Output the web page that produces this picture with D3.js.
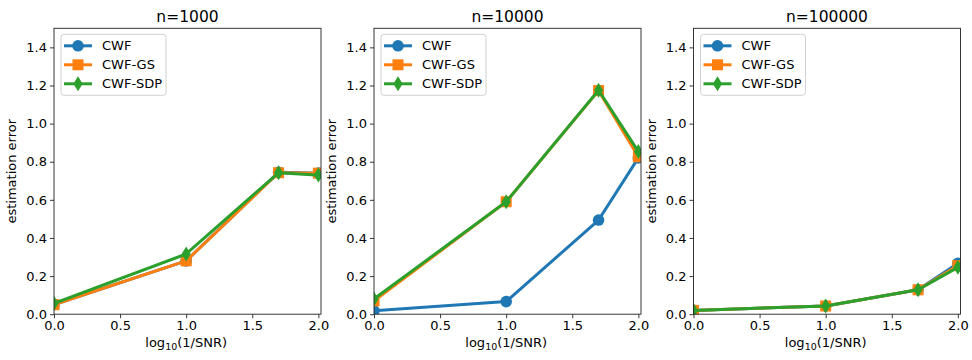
<!DOCTYPE html>
<html>
<head>
<meta charset="utf-8">
<script src="https://cdn.jsdelivr.net/npm/d3@7"></script>
<style>
  html, body { margin: 0; padding: 0; background: #fff; }
  svg { display: block; font-family: "DejaVu Sans", sans-serif; }
</style>
</head>
<body>
<svg id="chart" width="972" height="360"></svg>
<script>
// x positions: log10(1/SNR)
const snrLog = [0, 1, 1.699, 2];

const panelTitles = ["n=1000", "n=10000", "n=100000"];
const seriesNames = ["CWF", "CWF-GS", "CWF-SDP"];

// estimation error per sample size
const cwf_1000 = [0.05, 0.28, 0.745, 0.74];
const gs_1000  = [0.05, 0.28, 0.742, 0.74];
const sdp_1000 = [0.057, 0.316, 0.742, 0.73];

const cwf_10000 = [0.018, 0.066, 0.494, 0.82];
const gs_10000  = [0.07, 0.59, 1.173, 0.826];
const sdp_10000 = [0.08, 0.59, 1.175, 0.853];

const cwf_100000 = [0.02, 0.043, 0.128, 0.267];
const gs_100000  = [0.02, 0.043, 0.128, 0.255];
const sdp_100000 = [0.02, 0.043, 0.128, 0.246];

const yTicks = [0, 0.2, 0.4, 0.6, 0.8, 1.0, 1.2, 1.4];
const xTicks = [0, 0.5, 1.0, 1.5, 2.0];

const panelData = [
  [cwf_1000, gs_1000, sdp_1000],
  [cwf_10000, gs_10000, sdp_10000],
  [cwf_100000, gs_100000, sdp_100000]
];

const colors = ["#1f77b4", "#ff7f0e", "#2ca02c"];
const markerShapes = ["circle", "square", "thinDiamond"];

const svg = d3.select("#chart");
const panelLeft = [54, 374, 693.5];
const panelW = 267;
const plotTop = 28.3, plotBottom = 314.2;

function drawMarker(g, shape, color, x, y) {
  if (shape === "circle") {
    g.append("circle").attr("cx", x).attr("cy", y).attr("r", 5.8).attr("fill", color);
  } else if (shape === "square") {
    g.append("rect").attr("x", x - 5.5).attr("y", y - 5.5)
      .attr("width", 11).attr("height", 11).attr("fill", color);
  } else {
    const h = 7.5, w = 4.6;
    g.append("path")
      .attr("d", `M${x},${y - h}L${x + w},${y}L${x},${y + h}L${x - w},${y}Z`)
      .attr("fill", color);
  }
}

panelTitles.forEach((title, pi) => {
  const x0 = panelLeft[pi];
  const x = d3.scaleLinear().domain([0, 2.02]).range([x0, x0 + panelW]);
  const y = d3.scaleLinear().domain([0, 1.5]).range([plotBottom, plotTop]);
  const g = svg.append("g");

  const clipId = "clip" + pi;
  svg.append("clipPath").attr("id", clipId)
    .append("rect").attr("x", x0).attr("y", plotTop).attr("width", panelW).attr("height", plotBottom - plotTop);

  // axes
  const xAxis = d3.axisBottom(x).tickValues(xTicks).tickFormat(d3.format(".1f")).tickSize(4).tickPadding(3);
  const yAxis = d3.axisLeft(y).tickValues(yTicks).tickFormat(d3.format(".1f")).tickSize(4).tickPadding(3);
  const gx = g.append("g").attr("transform", `translate(0,${plotBottom})`).call(xAxis);
  const gy = g.append("g").attr("transform", `translate(${x0},0)`).call(yAxis);
  [gx, gy].forEach(a => {
    a.select(".domain").remove();
    a.selectAll("text").attr("font-size", 13).attr("fill", "#000").attr("font-family", "DejaVu Sans");
    a.selectAll("line").attr("stroke", "#222").attr("stroke-width", 0.9);
  });

  // series
  const plot = g.append("g").attr("clip-path", `url(#${clipId})`);
  const line = d3.line().x((d, i) => x(snrLog[i])).y(d => y(d));
  panelData[pi].forEach((vals, si) => {
    const sg = plot.append("g");
    sg.append("path").datum(vals).attr("d", line)
      .attr("fill", "none").attr("stroke", colors[si]).attr("stroke-width", 3)
      .attr("stroke-linejoin", "round").attr("stroke-linecap", "square");
    vals.forEach((v, i) => drawMarker(sg, markerShapes[si], colors[si], x(snrLog[i]), y(v)));
  });

  // frame
  g.append("rect").attr("x", x0).attr("y", plotTop).attr("width", panelW).attr("height", plotBottom - plotTop)
    .attr("fill", "none").attr("stroke", "#222").attr("stroke-width", 0.9);

  // title
  g.append("text").attr("x", x0 + panelW / 2).attr("y", 21.5)
    .attr("text-anchor", "middle").attr("font-size", 15.5).attr("fill", "#000").text(title);

  // axis labels
  const xl = g.append("text").attr("x", x(1)).attr("y", 347)
    .attr("text-anchor", "middle").attr("font-size", 13).attr("fill", "#000");
  xl.append("tspan").text("log");
  xl.append("tspan").attr("font-size", 9.5).attr("dy", 3).text("10");
  xl.append("tspan").attr("dy", -3).text("(1/SNR)");

  g.append("text").attr("transform", `translate(${x0 - 38},${(plotTop + plotBottom) / 2}) rotate(-90)`)
    .attr("text-anchor", "middle").attr("font-size", 13).attr("fill", "#000").text("estimation error");

  // legend
  const lx = x0 + 7, ly = plotTop + 6;
  const lg = g.append("g");
  lg.append("rect").attr("x", lx).attr("y", ly).attr("width", 105).attr("height", 61)
    .attr("rx", 3).attr("fill", "#fff").attr("fill-opacity", 0.8)
    .attr("stroke", "#ccc").attr("stroke-width", 0.9);
  seriesNames.forEach((name, si) => {
    const cy = ly + 11.5 + si * 19;
    lg.append("line").attr("x1", lx + 3).attr("x2", lx + 31).attr("y1", cy).attr("y2", cy)
      .attr("stroke", colors[si]).attr("stroke-width", 3);
    drawMarker(lg, markerShapes[si], colors[si], lx + 17, cy);
    lg.append("text").attr("x", lx + 41).attr("y", cy + 4.5)
      .attr("font-size", 13).attr("fill", "#000").text(name);
  });
});
</script>
</body>
</html>
